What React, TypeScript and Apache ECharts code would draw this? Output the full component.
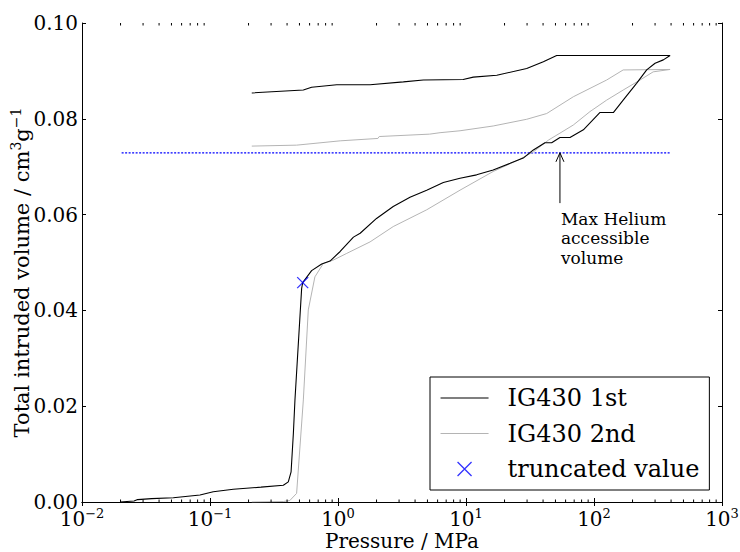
import React, { useEffect, useRef } from "react";
import * as echarts from "echarts";

const FONT = "'DejaVu Serif', 'Liberation Serif', serif";

// Mercury porosimetry cycles, [pressure / MPa, total intruded volume / cm3 g-1]
const FIRST_INTRUSION: [number, number][] = [
  [0.0198, 0.0], [0.0255, 0.0002], [0.0272, 0.0005], [0.035, 0.0007], [0.0517, 0.0009],
  [0.0835, 0.00146], [0.106, 0.00215], [0.152, 0.00265], [0.25, 0.0031], [0.374, 0.0035],
  [0.409, 0.0042], [0.43, 0.0063], [0.448, 0.0143], [0.461, 0.0213], [0.52, 0.0446],
  [0.53, 0.0458], [0.622, 0.0483], [0.746, 0.0497], [0.866, 0.0503], [1.04, 0.0523],
  [1.32, 0.0553], [1.49, 0.0561], [2.0, 0.0592], [2.7, 0.0617], [3.65, 0.0636],
  [4.93, 0.0651], [6.65, 0.0667], [8.98, 0.0676], [12.1, 0.0683], [16.3, 0.0693],
  [22.1, 0.0707], [28.0, 0.0718], [33.6, 0.0735], [41.4, 0.075], [46.7, 0.075],
  [54.2, 0.0761], [64.9, 0.0761], [82.6, 0.0777], [111, 0.0813], [141.6, 0.0813],
  [169, 0.0839], [215, 0.0874], [258, 0.0902], [300, 0.0916], [348, 0.0923], [393, 0.0932],
];
const FIRST_EXTRUSION: [number, number][] = [
  [51.1, 0.0932], [40.2, 0.0919], [29.8, 0.0905], [17.4, 0.0891], [11.4, 0.0887],
  [9.5, 0.0882], [4.64, 0.0881], [3.24, 0.0877], [1.78, 0.0871], [0.977, 0.0871],
  [0.622, 0.0866], [0.536, 0.086], [0.212, 0.0854],
];
const SECOND_INTRUSION: [number, number][] = [
  [0.212, 0.0], [0.374, 0.0001], [0.42, 0.0003], [0.475, 0.0018], [0.536, 0.0213],
  [0.586, 0.0401], [0.66, 0.047], [0.768, 0.0498], [0.918, 0.0505], [1.17, 0.0519],
  [1.78, 0.0543], [2.7, 0.0575], [4.93, 0.061], [8.98, 0.0651], [16.3, 0.069],
  [25.6, 0.0714], [33.6, 0.0731], [44.3, 0.0756], [54.2, 0.077], [68.9, 0.0787],
  [93, 0.0815], [125.6, 0.0839], [169, 0.086], [229, 0.0881], [290, 0.0898], [393, 0.0903],
];
const SECOND_EXTRUSION: [number, number][] = [
  [169, 0.0902], [125.6, 0.0881], [68.9, 0.0846], [42.7, 0.0811], [29.8, 0.0799],
  [16.3, 0.0785], [8.98, 0.0775], [6.27, 0.0771], [5.2, 0.0768], [2.1, 0.0763],
  [2.05, 0.0759], [1.04, 0.0754], [0.475, 0.0745], [0.212, 0.0743],
];
const TRUNCATED: [number, number][] = [[0.53, 0.0458]];

const HELIUM_VOLUME = 0.0729;
const HELIUM_SPAN = [0.0204, 393];
const ARROW_PRESSURE = 54.2;
const ARROW_TAIL_VOLUME = 0.0624;
const ANNOTATION = "Max Helium\naccessible\nvolume";

const SERIES_NAMES = ["IG430 1st", "IG430 2nd", "truncated value"];
const X_MIN = 0.01;
const X_MAX = 1000;
const Y_MIN = 0;
const Y_MAX = 0.1;
const Y_STEP = 0.02;
const DECADES = [0.01, 0.1, 1, 10, 100];
const MINOR_MULTIPLES = [2, 3, 4, 5, 6, 7, 8, 9];

const X_MARK = "path://M0,0L10,10M10,0L0,10";

function supLabel(v: number): string {
  const e = Math.round(Math.log10(v));
  const s = e < 0 ? "\u2212" + String(-e) : String(e);
  return `{b|10}{sup|${s}}`;
}

export default function App() {
  const ref = useRef<HTMLDivElement>(null);

  useEffect(() => {
    document.body.style.margin = "0";
    const chart = echarts.init(ref.current!, null, { renderer: "svg" });

    const minorTicks: [number, number][] = [];
    DECADES.forEach((d) => MINOR_MULTIPLES.forEach((m) => minorTicks.push([d * m, Y_MIN])));

    const supRich = (size: number, supSize: number, lh: number, supLh: number) => ({
      b: { fontFamily: FONT, fontSize: size, lineHeight: lh, color: "#000" },
      sup: { fontFamily: FONT, fontSize: supSize, lineHeight: supLh, verticalAlign: "top", color: "#000" },
    });

    const frameAxis = {
      axisLine: { show: true, lineStyle: { color: "#000", width: 1 } },
      axisTick: { show: true, inside: true, length: 4, lineStyle: { color: "#000", width: 1 } },
      splitLine: { show: false },
    };

    const hiddenMarker = { color: "rgba(0,0,0,0)", opacity: 0, borderWidth: 0 };

    const option: any = {
      animation: false,
      backgroundColor: "#fff",
      grid: { left: 82, right: 18, top: 23, bottom: 50, containLabel: false, outerBoundsMode: "none" },
      xAxis: [
        {
          type: "log",
          logBase: 10,
          min: X_MIN,
          max: X_MAX,
          position: "bottom",
          ...frameAxis,
          axisLabel: {
            margin: 5,
            formatter: (v: number) => supLabel(v),
            rich: supRich(20, 13, 24, 12),
            fontFamily: FONT,
            fontSize: 20,
            lineHeight: 24,
            color: "#000",
          },
          name: "Pressure / MPa",
          nameLocation: "middle",
          nameGap: 31,
          nameMoveOverlap: false,
          nameTextStyle: { fontFamily: FONT, fontSize: 20, color: "#000", lineHeight: 16 },
        },
        {
          type: "log",
          logBase: 10,
          min: X_MIN,
          max: X_MAX,
          position: "top",
          ...frameAxis,
          axisLabel: { show: false },
        },
      ],
      yAxis: [
        {
          type: "value",
          min: Y_MIN,
          max: Y_MAX,
          interval: Y_STEP,
          position: "left",
          ...frameAxis,
          axisLabel: {
            margin: 4,
            formatter: (v: number) => v.toFixed(2),
            fontFamily: FONT,
            fontSize: 20,
            lineHeight: 12,
            color: "#000",
          },
          name: "{b|Total intruded volume / cm}{sup|3}{b|g}{sup|\u22121}",
          nameLocation: "middle",
          nameRotate: 90,
          nameGap: 47,
          nameMoveOverlap: false,
          nameTextStyle: {
            fontFamily: FONT,
            fontSize: 21,
            lineHeight: 26,
            color: "#000",
            padding: [0, 20, 0, 0],
            rich: supRich(21, 14, 26, 14),
          },
        },
        {
          type: "value",
          min: Y_MIN,
          max: Y_MAX,
          interval: Y_STEP,
          position: "right",
          ...frameAxis,
          axisLabel: { show: false },
        },
      ],
      legend: {
        data: [
          { name: SERIES_NAMES[0], itemStyle: hiddenMarker },
          { name: SERIES_NAMES[1], itemStyle: hiddenMarker },
          { name: SERIES_NAMES[2], itemStyle: { borderWidth: 1.3 } },
        ],
        orient: "vertical",
        left: 430,
        top: 377,
        itemWidth: 48,
        itemHeight: 14,
        itemGap: 9.5,
        padding: [8, 10, 8, 10],
        borderColor: "#000",
        borderWidth: 1,
        borderRadius: 0,
        backgroundColor: "#fff",
        selectedMode: false,
        lineStyle: { width: 1.1 },
        textStyle: {
          fontFamily: FONT,
          fontSize: 24,
          lineHeight: 26,
          color: "#000",
          padding: [0, 0, 0, 14],
        },
      },
      series: [
        {
          name: SERIES_NAMES[0],
          type: "line",
          data: [...FIRST_INTRUSION, ...FIRST_EXTRUSION],
          symbol: "none",
          showSymbol: false,
          itemStyle: { color: "#000" },
          lineStyle: { color: "#000", width: 1.1 },
          z: 4,
        },
        {
          name: SERIES_NAMES[1],
          type: "line",
          data: [...SECOND_INTRUSION, ...SECOND_EXTRUSION],
          symbol: "none",
          showSymbol: false,
          itemStyle: { color: "#b4b4b4" },
          lineStyle: { color: "#b4b4b4", width: 1 },
          z: 3,
        },
        {
          name: "helium",
          type: "line",
          data: [
            [HELIUM_SPAN[0], HELIUM_VOLUME],
            [HELIUM_SPAN[1], HELIUM_VOLUME],
          ],
          symbol: "none",
          showSymbol: false,
          lineStyle: { color: "#0000ff", width: 1.2, type: [2, 1.5] },
          z: 2,
        },
        {
          name: SERIES_NAMES[2],
          type: "scatter",
          data: TRUNCATED,
          symbol: X_MARK,
          symbolSize: 11,
          itemStyle: { color: "rgba(0,0,0,0)", borderColor: "#0000ff", borderWidth: 1.3 },
          z: 6,
        },
        {
          name: "annotation",
          type: "custom",
          silent: true,
          data: [[ARROW_PRESSURE, ARROW_TAIL_VOLUME]],
          z: 5,
          renderItem: (_params: any, api: any) => {
            const tail = api.coord([ARROW_PRESSURE, ARROW_TAIL_VOLUME]);
            const head = api.coord([ARROW_PRESSURE, HELIUM_VOLUME]);
            return {
              type: "group",
              children: [
                {
                  type: "line",
                  shape: { x1: tail[0], y1: tail[1], x2: head[0], y2: head[1] },
                  style: { stroke: "#000", lineWidth: 1 },
                },
                {
                  type: "polyline",
                  shape: {
                    points: [
                      [head[0] - 4, head[1] + 9],
                      [head[0], head[1]],
                      [head[0] + 4, head[1] + 9],
                    ],
                  },
                  style: { stroke: "#000", fill: null, lineWidth: 1 },
                },
                {
                  type: "text",
                  x: head[0] + 1,
                  y: tail[1] + 6,
                  style: {
                    text: ANNOTATION,
                    fill: "#000",
                    font: `17px ${FONT}`,
                    lineHeight: 19.5,
                    align: "left",
                    verticalAlign: "top",
                  },
                },
              ],
            };
          },
        },
        {
          name: "minor ticks",
          type: "custom",
          silent: true,
          data: minorTicks,
          z: 7,
          renderItem: (_params: any, api: any) => {
            const v = api.value(0);
            const b = api.coord([v, Y_MIN]);
            const t = api.coord([v, Y_MAX]);
            return {
              type: "group",
              children: [
                {
                  type: "line",
                  shape: { x1: b[0], y1: b[1], x2: b[0], y2: b[1] - 2.5 },
                  style: { stroke: "#000", lineWidth: 1 },
                },
                {
                  type: "line",
                  shape: { x1: t[0], y1: t[1], x2: t[0], y2: t[1] + 2.5 },
                  style: { stroke: "#000", lineWidth: 1 },
                },
              ],
            };
          },
        },
      ],
    };

    chart.setOption(option);
    return () => chart.dispose();
  }, []);

  return (
    <div
      ref={ref}
      style={{ width: 740, height: 552, position: "fixed", left: 0, top: 0 }}
    />
  );
}
